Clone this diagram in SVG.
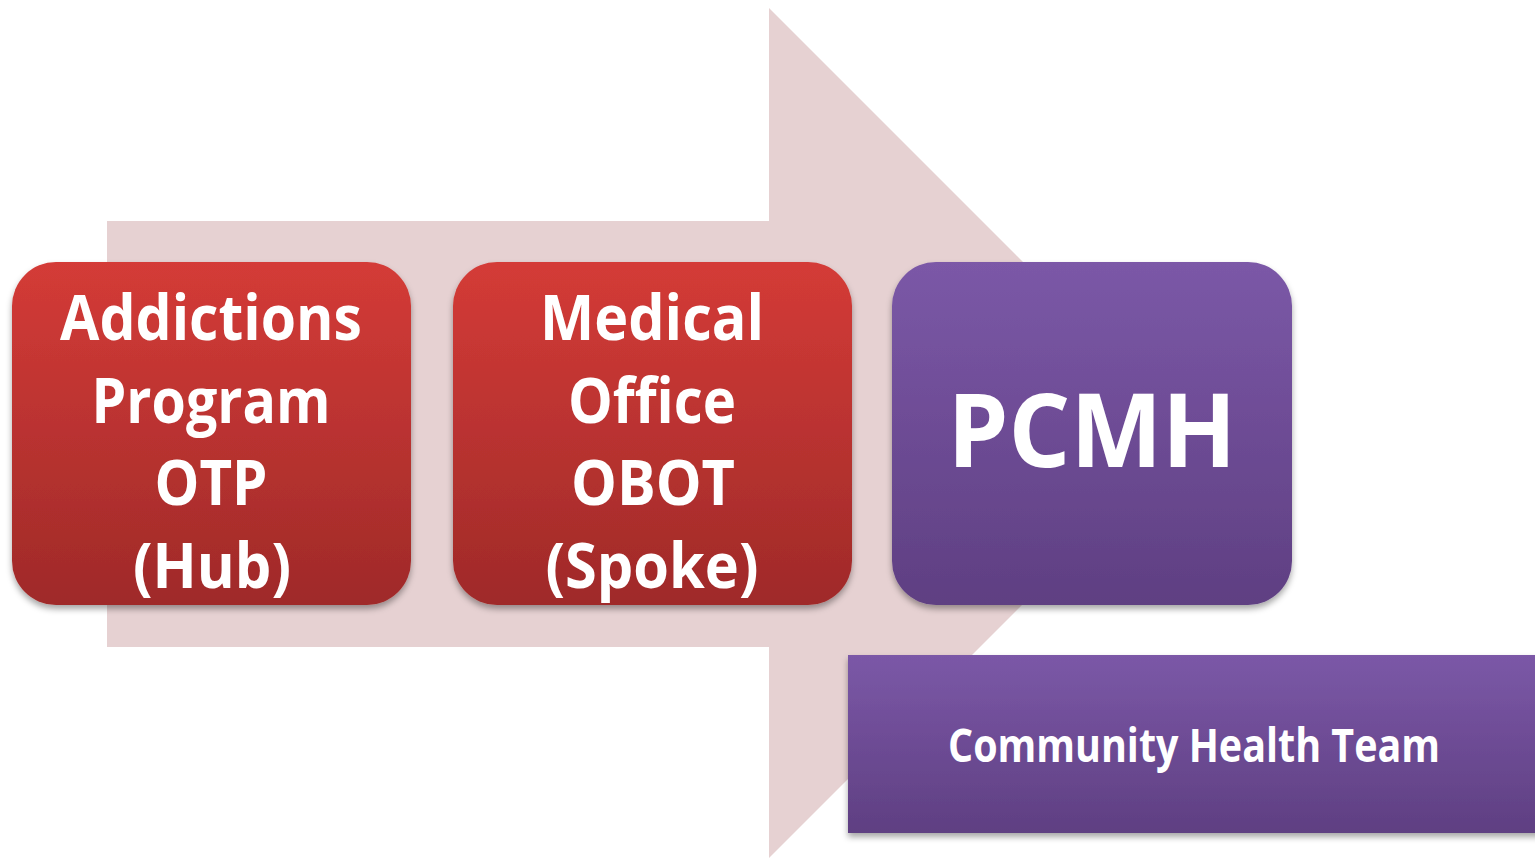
<svg xmlns="http://www.w3.org/2000/svg" width="1535" height="858" viewBox="0 0 1535 858">
<defs>
<linearGradient id="red" x1="0" y1="0" x2="0" y2="1"><stop offset="0" stop-color="#d43b37"/><stop offset="1" stop-color="#9f2a29"/></linearGradient>
<linearGradient id="purple" x1="0" y1="0" x2="0" y2="1"><stop offset="0" stop-color="#7b58a7"/><stop offset="1" stop-color="#5f3f82"/></linearGradient>
<filter id="sh" x="-10%" y="-10%" width="120%" height="125%"><feDropShadow dx="0" dy="4" stdDeviation="3" flood-color="#000" flood-opacity="0.35"/></filter>
<style>
.t{font-family:"Open Sans",Lato,sans-serif;font-weight:bold;fill:#fff;text-anchor:middle;font-variant-ligatures:none}
.big{font-size:63px}
</style>
</defs>
<rect width="1535" height="858" fill="#fff"/>
<g id="arrow"><polygon points="107,221 769,221 769,8 1194,433 769,858 769,647 107,647" fill="#e6d1d2"/></g>
<g id="hub">
<rect x="12" y="262" width="399" height="343" rx="44" fill="url(#red)" filter="url(#sh)"/>
<text class="t big" x="211" y="340" textLength="302" lengthAdjust="spacingAndGlyphs">Addictions</text>
<text class="t big" x="211" y="423" textLength="239" lengthAdjust="spacingAndGlyphs">Program</text>
<text class="t big" x="211" y="505" textLength="113" lengthAdjust="spacingAndGlyphs">OTP</text>
<text class="t big" x="212" y="588" textLength="158" lengthAdjust="spacingAndGlyphs">(Hub)</text>
</g>
<g id="spoke">
<rect x="453" y="262" width="399" height="343" rx="44" fill="url(#red)" filter="url(#sh)"/>
<text class="t big" x="652" y="340" textLength="224" lengthAdjust="spacingAndGlyphs">Medical</text>
<text class="t big" x="652" y="423" textLength="168" lengthAdjust="spacingAndGlyphs">Office</text>
<text class="t big" x="653" y="505" textLength="164" lengthAdjust="spacingAndGlyphs">OBOT</text>
<text class="t big" x="652" y="588" textLength="213" lengthAdjust="spacingAndGlyphs">(Spoke)</text>
</g>
<g id="pcmh">
<rect x="892" y="262" width="400" height="343" rx="44" fill="url(#purple)" filter="url(#sh)"/>
<text class="t" x="1092" y="467" font-size="102" textLength="289" lengthAdjust="spacingAndGlyphs">PCMH</text>
</g>
<g id="cht">
<rect x="848" y="655" width="700" height="178" fill="url(#purple)" filter="url(#sh)"/>
<text class="t" x="1194" y="762" font-size="46" textLength="492" lengthAdjust="spacingAndGlyphs">Community Health Team</text>
</g>
<g id="connectors"></g>
</svg>
